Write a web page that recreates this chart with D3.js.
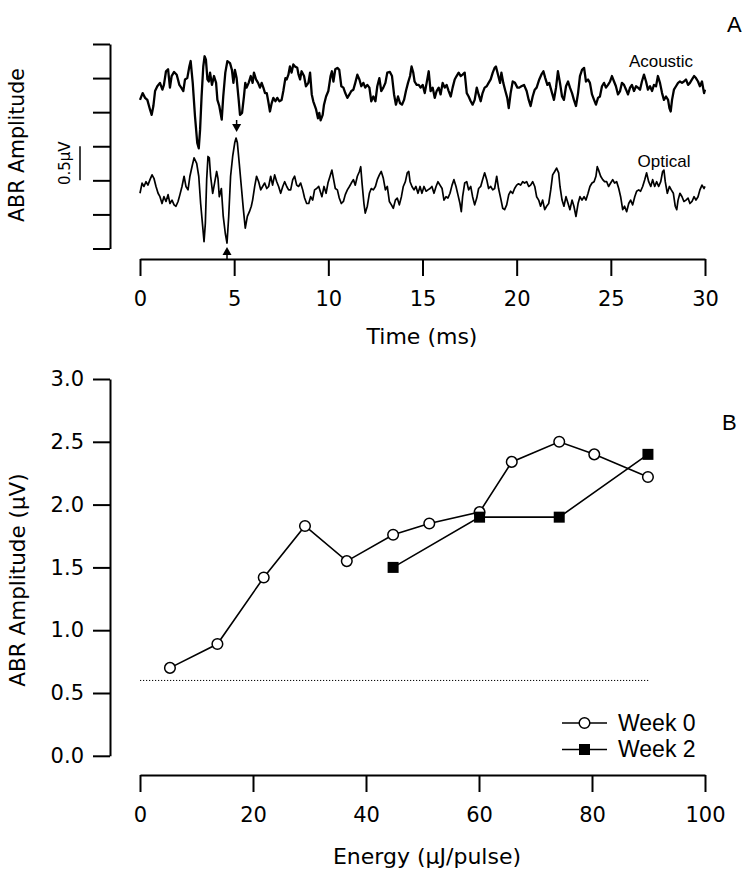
<!DOCTYPE html>
<html>
<head>
<meta charset="utf-8">
<script src="https://cdn.jsdelivr.net/npm/d3@7"></script>
<style>
  html, body { margin: 0; padding: 0; background: #fff; }
  svg { display: block; }
  text { font-family: "Liberation Sans", Arial, sans-serif; fill: #000; }
  .dv { font-family: "DejaVu Sans", Verdana, sans-serif; }
</style>
</head>
<body>
<svg id="chart" width="749" height="877"></svg>
<script>
// ---------- Panel A data: ABR traces, [time (ms), amplitude (µV, offset for display)] ----------
const acoustic = [
[0,0.68],[0.14,0.78],[0.27,0.71],[0.39,0.68],[0.53,0.54],[0.62,0.46],[0.71,0.59],[0.80,0.81],[0.92,0.88],[1.06,0.93],
[1.19,0.83],[1.27,0.90],[1.38,1.10],[1.49,1.13],[1.59,0.86],[1.68,1.03],[1.81,1.09],[1.95,1.05],[2.09,0.90],[2.19,0.86],
[2.30,0.81],[2.39,0.98],[2.51,1.00],[2.62,1.17],[2.69,1.25],[2.80,0.93],[2.92,0.44],[3.04,0.05],[3.12,-0.03],[3.19,0.24],
[3.27,0.73],[3.36,1.17],[3.43,1.32],[3.50,1.27],[3.58,0.98],[3.65,0.95],[3.72,1.08],[3.82,0.90],[3.93,1.03],[4.04,0.93],
[4.11,0.68],[4.21,0.59],[4.34,0.39],[4.42,0.73],[4.53,1.08],[4.64,1.25],[4.78,1.22],[4.88,1.12],[4.96,0.93],[5.04,1.12],
[5.13,1.00],[5.24,0.68],[5.31,0.46],[5.42,0.49],[5.52,0.73],[5.59,0.93],[5.66,0.86],[5.77,0.93],[5.88,1.03],[5.98,0.93],
[6.05,1.08],[6.16,0.98],[6.27,0.93],[6.37,0.86],[6.46,0.93],[6.55,0.86],[6.64,0.78],[6.73,0.78],[6.81,0.66],[6.90,0.51],
[6.99,0.63],[7.08,0.71],[7.19,0.66],[7.29,0.71],[7.40,0.66],[7.52,0.68],[7.61,0.81],[7.72,1.00],[7.79,0.98],[7.88,1.05],
[7.96,1.17],[8.05,1.08],[8.14,1.20],[8.23,1.17],[8.35,1.15],[8.42,1.05],[8.50,0.98],[8.58,1.10],[8.71,1.03],[8.81,0.88],
[8.94,0.93],[9.03,1.08],[9.12,0.76],[9.20,0.66],[9.35,0.54],[9.45,0.41],[9.52,0.49],[9.59,0.38],[9.70,0.46],[9.77,0.61],
[9.88,0.73],[10.00,0.81],[10.12,1.03],[10.19,1.10],[10.27,0.95],[10.37,1.13],[10.48,1.15],[10.58,1.12],[10.69,0.88],[10.80,0.86],
[10.90,0.78],[11.01,0.71],[11.12,0.76],[11.22,0.81],[11.33,0.83],[11.43,0.93],[11.54,1.05],[11.65,0.98],[11.75,0.88],[11.86,0.93],
[11.96,0.86],[12.07,0.90],[12.18,0.86],[12.28,0.66],[12.39,0.73],[12.50,0.66],[12.60,0.88],[12.71,1.00],[12.81,0.81],[12.92,0.86],
[13.03,0.93],[13.13,1.08],[13.27,1.09],[13.38,1.03],[13.49,0.76],[13.59,0.61],[13.70,0.73],[13.81,0.63],[13.91,0.61],[14.02,0.68],
[14.12,0.81],[14.23,0.93],[14.34,1.03],[14.42,1.17],[14.51,1.08],[14.58,0.95],[14.69,0.90],[14.80,0.90],[14.90,0.86],[15.01,0.90],
[15.12,0.78],[15.22,0.93],[15.33,1.10],[15.43,0.81],[15.54,0.86],[15.65,0.71],[15.75,0.81],[15.86,0.86],[15.96,0.76],[16.07,0.93],
[16.18,0.86],[16.28,0.90],[16.39,0.81],[16.50,0.73],[16.60,0.86],[16.71,0.98],[16.81,1.03],[16.92,1.08],[17.03,1.03],[17.13,1.05],
[17.24,1.08],[17.35,0.78],[17.45,0.73],[17.56,0.66],[17.66,0.61],[17.77,0.68],[17.88,0.86],[17.98,0.76],[18.09,0.66],[18.19,0.78],
[18.30,0.86],[18.41,0.88],[18.51,0.93],[18.62,0.98],[18.73,1.08],[18.83,1.15],[18.90,1.17],[19.01,1.05],[19.12,0.93],[19.19,1.08],
[19.29,0.93],[19.40,0.81],[19.50,0.71],[19.58,0.56],[19.68,0.78],[19.79,0.95],[19.91,0.93],[20.04,0.86],[20.14,0.86],[20.25,0.88],
[20.39,0.90],[20.53,0.81],[20.64,0.68],[20.74,0.59],[20.85,0.73],[20.96,0.83],[21.06,0.86],[21.20,0.98],[21.31,1.05],[21.42,1.10],
[21.52,1.00],[21.63,0.90],[21.73,0.93],[21.88,0.78],[21.98,0.68],[22.09,0.86],[22.19,1.10],[22.30,0.93],[22.41,0.73],[22.51,0.68],
[22.62,0.88],[22.73,0.95],[22.83,0.86],[22.94,0.78],[23.04,0.68],[23.15,0.59],[23.26,0.78],[23.36,1.03],[23.47,1.12],[23.58,1.15],
[23.68,0.95],[23.79,0.98],[23.89,0.93],[24.00,0.76],[24.11,0.68],[24.21,0.61],[24.32,0.71],[24.42,0.73],[24.53,0.88],[24.64,0.93],
[24.74,0.86],[24.85,0.90],[24.96,0.95],[25.06,1.03],[25.17,0.95],[25.27,0.88],[25.38,0.76],[25.49,0.81],[25.59,0.93],[25.70,0.90],
[25.81,0.83],[25.91,0.76],[26.02,0.86],[26.12,0.90],[26.23,0.81],[26.34,0.88],[26.44,0.86],[26.55,0.83],[26.65,0.95],[26.76,1.05],
[26.87,0.95],[26.97,0.83],[27.08,0.88],[27.19,0.81],[27.29,0.90],[27.40,0.88],[27.50,1.03],[27.61,0.93],[27.72,0.78],[27.82,0.68],
[27.93,0.73],[28.04,0.68],[28.11,0.56],[28.18,0.51],[28.25,0.68],[28.35,0.83],[28.46,0.88],[28.57,0.93],[28.67,0.95],[28.78,0.93],
[28.88,0.95],[28.99,0.98],[29.10,0.90],[29.20,0.93],[29.31,0.98],[29.42,1.03],[29.52,1.00],[29.63,0.95],[29.73,0.88],[29.84,0.95],
[29.95,0.78],[30.00,0.83]
];

const optical = [
[0,-0.69],[0.11,-0.54],[0.21,-0.59],[0.32,-0.52],[0.42,-0.57],[0.53,-0.49],[0.64,-0.42],[0.74,-0.47],[0.85,-0.59],[0.96,-0.69],
[1.06,-0.74],[1.17,-0.84],[1.27,-0.74],[1.38,-0.81],[1.49,-0.71],[1.59,-0.84],[1.70,-0.79],[1.81,-0.86],[1.91,-0.88],[2.02,-0.81],
[2.12,-0.71],[2.23,-0.59],[2.34,-0.44],[2.44,-0.59],[2.55,-0.64],[2.65,-0.44],[2.76,-0.30],[2.87,-0.17],[3.01,-0.25],[3.12,-0.44],
[3.22,-0.84],[3.33,-1.18],[3.40,-1.40],[3.47,-1.13],[3.54,-0.49],[3.61,-0.15],[3.68,-0.17],[3.75,-0.44],[3.86,-0.69],[3.96,-0.54],
[4.07,-0.37],[4.14,-0.47],[4.21,-0.74],[4.32,-0.62],[4.42,-1.03],[4.53,-1.28],[4.62,-1.42],[4.71,-1.03],[4.81,-0.44],[4.92,-0.15],
[5.03,0.05],[5.10,0.12],[5.17,0.05],[5.27,-0.25],[5.38,-0.59],[5.49,-0.93],[5.59,-1.20],[5.70,-1.03],[5.81,-0.96],[5.91,-0.88],
[5.98,-0.79],[6.09,-0.59],[6.19,-0.44],[6.30,-0.52],[6.41,-0.64],[6.51,-0.59],[6.62,-0.54],[6.73,-0.62],[6.83,-0.59],[6.94,-0.44],
[7.04,-0.57],[7.15,-0.42],[7.26,-0.52],[7.36,-0.59],[7.47,-0.69],[7.58,-0.59],[7.68,-0.52],[7.79,-0.59],[7.89,-0.64],[8.00,-0.64],
[8.11,-0.49],[8.21,-0.44],[8.32,-0.57],[8.42,-0.59],[8.53,-0.54],[8.64,-0.64],[8.74,-0.76],[8.85,-0.84],[8.96,-0.84],[9.06,-0.74],
[9.17,-0.79],[9.27,-0.64],[9.38,-0.62],[9.49,-0.59],[9.66,-0.74],[9.77,-0.59],[9.88,-0.69],[9.98,-0.54],[10.09,-0.44],[10.19,-0.35],
[10.27,-0.47],[10.37,-0.62],[10.48,-0.64],[10.58,-0.76],[10.69,-0.84],[10.80,-0.81],[10.90,-0.71],[11.01,-0.64],[11.12,-0.59],[11.22,-0.54],
[11.33,-0.49],[11.43,-0.57],[11.54,-0.44],[11.65,-0.37],[11.72,-0.30],[11.79,-0.54],[11.89,-0.84],[11.96,-0.98],[12.07,-0.88],[12.18,-0.69],
[12.28,-0.62],[12.39,-0.64],[12.50,-0.59],[12.60,-0.49],[12.71,-0.42],[12.81,-0.37],[12.92,-0.47],[13.03,-0.64],[13.13,-0.59],[13.24,-0.81],
[13.35,-0.86],[13.45,-0.91],[13.56,-0.79],[13.66,-0.76],[13.77,-0.86],[13.88,-0.74],[13.98,-0.59],[14.09,-0.52],[14.19,-0.39],[14.27,-0.37],
[14.34,-0.52],[14.44,-0.59],[14.55,-0.64],[14.65,-0.59],[14.76,-0.69],[14.87,-0.59],[14.97,-0.69],[15.08,-0.59],[15.19,-0.66],[15.29,-0.64],
[15.40,-0.62],[15.50,-0.59],[15.61,-0.69],[15.72,-0.59],[15.82,-0.52],[15.93,-0.57],[16.04,-0.62],[16.14,-0.79],[16.25,-0.74],[16.35,-0.76],
[16.46,-0.69],[16.57,-0.57],[16.67,-0.49],[16.78,-0.59],[16.88,-0.71],[16.99,-0.84],[17.06,-0.96],[17.13,-0.74],[17.24,-0.54],[17.35,-0.52],
[17.45,-0.64],[17.56,-0.59],[17.66,-0.74],[17.77,-0.86],[17.88,-0.76],[17.98,-0.62],[18.09,-0.59],[18.19,-0.49],[18.30,-0.39],[18.41,-0.49],
[18.51,-0.62],[18.62,-0.59],[18.73,-0.64],[18.83,-0.62],[18.94,-0.44],[19.04,-0.62],[19.15,-0.76],[19.26,-0.91],[19.36,-0.93],[19.47,-0.86],
[19.58,-0.71],[19.68,-0.66],[19.79,-0.69],[19.89,-0.62],[20.00,-0.57],[20.10,-0.55],[20.21,-0.57],[20.32,-0.52],[20.42,-0.54],[20.53,-0.52],
[20.64,-0.59],[20.74,-0.57],[20.85,-0.52],[20.96,-0.59],[21.06,-0.74],[21.17,-0.79],[21.27,-0.88],[21.38,-0.79],[21.49,-0.93],[21.59,-0.88],
[21.70,-0.84],[21.81,-0.64],[21.91,-0.42],[22.02,-0.37],[22.12,-0.32],[22.23,-0.39],[22.30,-0.59],[22.41,-0.79],[22.51,-0.88],[22.62,-0.74],
[22.73,-0.84],[22.83,-0.93],[22.94,-0.79],[23.04,-0.88],[23.15,-1.03],[23.26,-0.84],[23.36,-0.74],[23.47,-0.79],[23.58,-0.74],[23.68,-0.79],
[23.79,-0.69],[23.89,-0.59],[24.00,-0.54],[24.11,-0.52],[24.21,-0.44],[24.28,-0.30],[24.35,-0.35],[24.46,-0.44],[24.57,-0.49],[24.67,-0.52],
[24.78,-0.52],[24.88,-0.59],[24.99,-0.54],[25.10,-0.49],[25.20,-0.54],[25.31,-0.52],[25.42,-0.62],[25.52,-0.74],[25.63,-0.93],[25.73,-0.88],
[25.84,-0.96],[25.95,-0.84],[26.05,-0.79],[26.16,-0.86],[26.27,-0.74],[26.37,-0.66],[26.48,-0.64],[26.58,-0.66],[26.69,-0.59],[26.80,-0.49],
[26.90,-0.39],[27.01,-0.52],[27.12,-0.59],[27.22,-0.49],[27.33,-0.59],[27.43,-0.52],[27.54,-0.59],[27.65,-0.52],[27.75,-0.37],[27.82,-0.35],
[27.89,-0.52],[28.00,-0.69],[28.11,-0.59],[28.21,-0.64],[28.32,-0.69],[28.42,-0.88],[28.50,-0.93],[28.57,-0.79],[28.67,-0.69],[28.78,-0.74],
[28.88,-0.81],[28.99,-0.79],[29.10,-0.76],[29.20,-0.84],[29.31,-0.81],[29.42,-0.74],[29.52,-0.79],[29.63,-0.74],[29.73,-0.64],[29.84,-0.57],
[29.95,-0.62],[30.00,-0.59]
];

const traceLabels = ["Acoustic", "Optical"];
const timeTicks = [0, 5, 10, 15, 20, 25, 30];
const ampTicks = [-1.5, -1.0, -0.5, 0, 0.5, 1.0, 1.5];
const scaleBarValue = 0.5;          // µV
const arrowTimes = [5.13, 4.62];    // down arrow (acoustic side), up arrow (optical side)

// ---------- Panel B data ----------
const week0Energy = [5.3, 13.7, 21.9, 29.2, 36.6, 44.8, 51.2, 60.1, 65.8, 74.2, 80.4, 89.9];
const week0Amp    = [0.70, 0.89, 1.42, 1.83, 1.55, 1.76, 1.85, 1.94, 2.34, 2.50, 2.40, 2.22];
const week2Energy = [44.8, 60.1, 74.2, 89.9];
const week2Amp    = [1.50, 1.90, 1.90, 2.40];
const thresholdAmp = 0.6;
const thresholdRange = [0, 90];
const energyTicks = [0, 20, 40, 60, 80, 100];
const bAmpTicks = [0, 0.5, 1.0, 1.5, 2.0, 2.5, 3.0];
const seriesNames = ["Week 0", "Week 2"];

const svg = d3.select("#chart");
const DV = "'DejaVu Sans', Verdana, sans-serif";

function styleAxis(g) {
  g.selectAll("path.domain").attr("stroke", "#000").attr("stroke-width", 2);
  g.selectAll(".tick line").attr("stroke", "#000").attr("stroke-width", 2);
  g.selectAll(".tick text").style("font-size", "21px").style("font-family", DV).attr("fill", "#000");
}

// ================= Panel A =================
const xA = d3.scaleLinear().domain([0, 30]).range([140, 705]);
const yA = d3.scaleLinear().domain([-1.5, 1.5]).range([248.5, 44]);

const gxA = svg.append("g").attr("transform", "translate(0,259)")
  .call(d3.axisBottom(xA).tickValues(timeTicks).tickSize(17).tickSizeOuter(0).tickPadding(15));
const gyA = svg.append("g").attr("transform", "translate(110,0)")
  .call(d3.axisLeft(yA).tickValues(ampTicks).tickSize(17).tickSizeOuter(0).tickFormat(""));
styleAxis(gxA); styleAxis(gyA);

const lineA = d3.line().x(d => xA(d[0])).y(d => yA(d[1]));
svg.append("path").datum(acoustic).attr("d", lineA)
  .attr("fill", "none").attr("stroke", "#000").attr("stroke-width", 2.3).attr("stroke-linejoin", "round");
svg.append("path").datum(optical).attr("d", lineA)
  .attr("fill", "none").attr("stroke", "#000").attr("stroke-width", 1.7).attr("stroke-linejoin", "round");

svg.append("text").attr("x", 661).attr("y", 67).attr("text-anchor", "middle")
  .style("font-size", "17px").text(traceLabels[0]);
svg.append("text").attr("x", 664).attr("y", 167).attr("text-anchor", "middle")
  .style("font-size", "17px").text(traceLabels[1]);

// arrows
{
  const xd = xA(arrowTimes[0]);
  svg.append("line").attr("x1", xd).attr("x2", xd).attr("y1", 120).attr("y2", 126).attr("stroke", "#000").attr("stroke-width", 1.5);
  svg.append("path").attr("d", `M${xd-4.5},124 L${xd+4.5},124 L${xd},132 Z`).attr("fill", "#000");
  const xu = xA(arrowTimes[1]);
  svg.append("line").attr("x1", xu).attr("x2", xu).attr("y1", 253).attr("y2", 259).attr("stroke", "#000").attr("stroke-width", 1.5);
  svg.append("path").attr("d", `M${xu-4.5},255 L${xu+4.5},255 L${xu},247 Z`).attr("fill", "#000");
}

// scale bar
svg.append("line").attr("x1", 80).attr("x2", 80)
  .attr("y1", yA(0)).attr("y2", yA(-scaleBarValue)).attr("stroke", "#000").attr("stroke-width", 1.5);
svg.append("text").attr("transform", `translate(70,${(yA(0)+yA(-scaleBarValue))/2}) rotate(-90)`)
  .attr("text-anchor", "middle").style("font-size", "15px").style("font-family", DV).text("0.5\u03BCV");

svg.append("text").attr("transform", "translate(24,145) rotate(-90)")
  .attr("text-anchor", "middle").style("font-size", "20.5px").style("font-family", DV).text("ABR Amplitude");
svg.append("text").attr("x", 422).attr("y", 344).attr("text-anchor", "middle")
  .style("font-size", "22px").style("font-family", DV).text("Time (ms)");
svg.append("text").attr("x", 727).attr("y", 32).style("font-size", "22px").text("A");

// ================= Panel B =================
const xB = d3.scaleLinear().domain([0, 100]).range([140, 705]);
const yB = d3.scaleLinear().domain([0, 3]).range([755.8, 379]);

const gxB = svg.append("g").attr("transform", "translate(0,775)")
  .call(d3.axisBottom(xB).tickValues(energyTicks).tickSize(17).tickSizeOuter(0).tickPadding(15));
const gyB = svg.append("g").attr("transform", "translate(110,0)")
  .call(d3.axisLeft(yB).tickValues(bAmpTicks).tickSize(17).tickSizeOuter(0).tickPadding(9).tickFormat(d3.format(".1f")));
styleAxis(gxB); styleAxis(gyB);

// threshold dotted line
svg.append("line")
  .attr("x1", xB(thresholdRange[0])).attr("x2", xB(thresholdRange[1]))
  .attr("y1", yB(thresholdAmp)).attr("y2", yB(thresholdAmp))
  .attr("stroke", "#000").attr("stroke-width", 1).attr("stroke-dasharray", "1.2,1.8");

const w0 = week0Energy.map((e, i) => [e, week0Amp[i]]);
const w2 = week2Energy.map((e, i) => [e, week2Amp[i]]);
const lineB = d3.line().x(d => xB(d[0])).y(d => yB(d[1]));

svg.append("path").datum(w0).attr("d", lineB).attr("fill", "none").attr("stroke", "#000").attr("stroke-width", 1.6);
svg.selectAll("circle.w0").data(w0).join("circle").attr("class", "w0")
  .attr("cx", d => xB(d[0])).attr("cy", d => yB(d[1])).attr("r", 5.3)
  .attr("fill", "#fff").attr("stroke", "#000").attr("stroke-width", 1.5);

svg.append("path").datum(w2).attr("d", lineB).attr("fill", "none").attr("stroke", "#000").attr("stroke-width", 1.6);
svg.selectAll("rect.w2").data(w2).join("rect").attr("class", "w2")
  .attr("x", d => xB(d[0]) - 5.5).attr("y", d => yB(d[1]) - 5.5).attr("width", 11).attr("height", 11)
  .attr("fill", "#000");

// legend
const lg = svg.append("g");
lg.append("line").attr("x1", 562).attr("x2", 607).attr("y1", 723).attr("y2", 723).attr("stroke", "#000").attr("stroke-width", 1.6);
lg.append("circle").attr("cx", 584.5).attr("cy", 723).attr("r", 5.3).attr("fill", "#fff").attr("stroke", "#000").attr("stroke-width", 1.5);
lg.append("text").attr("x", 618).attr("y", 730.5).style("font-size", "23px").text(seriesNames[0]);
lg.append("line").attr("x1", 562).attr("x2", 607).attr("y1", 749.5).attr("y2", 749.5).attr("stroke", "#000").attr("stroke-width", 1.6);
lg.append("rect").attr("x", 579).attr("y", 744).attr("width", 11).attr("height", 11).attr("fill", "#000");
lg.append("text").attr("x", 618).attr("y", 757).style("font-size", "23px").text(seriesNames[1]);

svg.append("text").attr("transform", "translate(25,580) rotate(-90)")
  .attr("text-anchor", "middle").style("font-size", "21.5px").style("font-family", DV).text("ABR Amplitude (\u03BCV)");
svg.append("text").attr("x", 427).attr("y", 864).attr("text-anchor", "middle")
  .style("font-size", "22px").style("font-family", DV).text("Energy (\u03BCJ/pulse)");
svg.append("text").attr("x", 722).attr("y", 430).style("font-size", "22px").text("B");
</script>
</body>
</html>
